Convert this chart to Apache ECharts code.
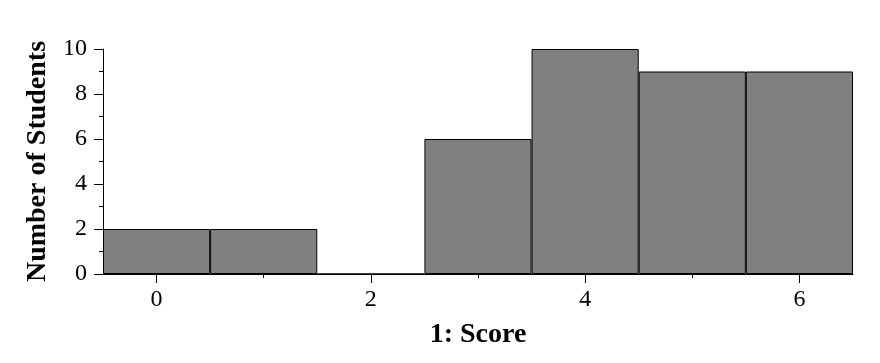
<!DOCTYPE html>
<html>
<head>
<meta charset="utf-8">
<script src="https://cdn.jsdelivr.net/npm/echarts@6/dist/echarts.min.js"></script>
<style>html,body{margin:0;padding:0;background:#fff}#c{width:880px;height:363px}</style>
</head>
<body>
<div id="c"></div>
<script>
const categories = ["0", "1", "2", "3", "4", "5", "6"];
const counts = [2, 2, 0, 6, 10, 9, 9];
const xTitle = "1: Score";
const yTitle = "Number of Students";

const font = "Liberation Serif, Times New Roman, serif";
const chart = echarts.init(document.getElementById('c'), null, {renderer: 'canvas'});
chart.setOption({
  animation: false,
  backgroundColor: '#fff',
  grid: {left: 103, right: 27, top: 49, bottom: 89, containLabel: false},
  xAxis: [{
    type: 'category',
    data: categories,
    boundaryGap: true,
    name: xTitle,
    nameLocation: 'middle',
    nameGap: 47,
    nameTextStyle: {fontFamily: font, fontSize: 28, fontWeight: 'bold', color: '#000'},
    axisLine: {show: true, lineStyle: {color: '#000', width: 1}},
    axisTick: {show: true, alignWithLabel: true, length: 9, lineStyle: {color: '#000'},
      interval: function (i) { return i % 2 === 0; }},
    axisLabel: {fontFamily: font, fontSize: 24, color: '#000', margin: 14,
      interval: function (i) { return i % 2 === 0; }},
    splitLine: {show: false}
  }, {
    type: 'category',
    data: categories,
    boundaryGap: true,
    position: 'bottom',
    axisLine: {show: false},
    axisTick: {show: true, alignWithLabel: true, length: 4, lineStyle: {color: '#000'},
      interval: function (i) { return i % 2 === 1; }},
    axisLabel: {show: false},
    splitLine: {show: false}
  }],
  yAxis: {
    type: 'value',
    min: 0, max: 10, interval: 2,
    name: yTitle,
    nameLocation: 'middle',
    nameGap: 45,
    nameTextStyle: {fontFamily: font, fontSize: 28, fontWeight: 'bold', color: '#000'},
    axisLine: {show: true, lineStyle: {color: '#000', width: 1}},
    axisTick: {show: true, length: 9, lineStyle: {color: '#000'}},
    minorTick: {show: true, splitNumber: 2, length: 4, lineStyle: {color: '#000'}},
    axisLabel: {fontFamily: font, fontSize: 24, color: '#000', margin: 16},
    splitLine: {show: false},
    minorSplitLine: {show: false}
  },
  series: [{
    type: 'bar',
    xAxisIndex: 0,
    data: counts,
    barCategoryGap: '0%',
    itemStyle: {color: '#808080', borderColor: '#000', borderWidth: 1},
    silent: true
  }]
});
</script>
</body>
</html>
